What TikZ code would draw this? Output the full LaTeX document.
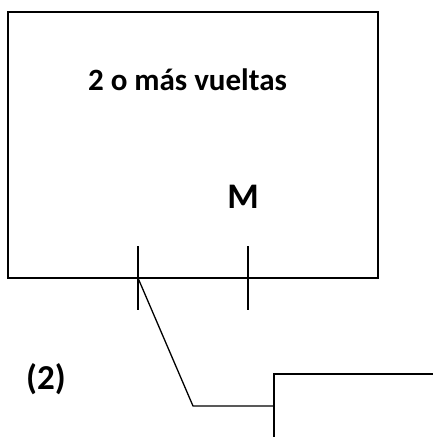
\documentclass[tikz,border=0pt]{standalone}
\usepackage{fontspec}
\setmainfont{Carlito}
\begin{document}
\begin{tikzpicture}[x=1pt,y=-1pt,
  ln/.style={line width=1.3pt},
  lbl/.style={font=\bfseries, inner sep=0pt, anchor=base}]
\useasboundingbox (0,0) rectangle (433,437);
\draw[ln] (8,12) rectangle (378,278);
\node[lbl, font=\fontsize{31}{36}\selectfont\bfseries] (t) at (187.5,90) {2 o más vueltas};
\node[lbl, font=\fontsize{36}{40}\selectfont\bfseries] (m) at (243,208) {M};
\node[lbl, font=\fontsize{35}{40}\selectfont\bfseries] (n) at (46,389) {(2)};
\coordinate (a1) at (138,246); \coordinate (a2) at (138,310);
\coordinate (b1) at (248,246); \coordinate (b2) at (248,310);
\coordinate (j) at (138,278);
\coordinate (k) at (193,406);
\coordinate (p) at (274,406);
\coordinate (q1) at (274,374); \coordinate (q2) at (274,437);
\coordinate (r) at (433,374);
\draw[ln] (a1) -- (a2);
\draw[ln] (b1) -- (b2);
\draw[ln] (j) -- (k) -- (p);
\draw[ln] (q2) -- (q1) -- (r);
\end{tikzpicture}
\end{document}
